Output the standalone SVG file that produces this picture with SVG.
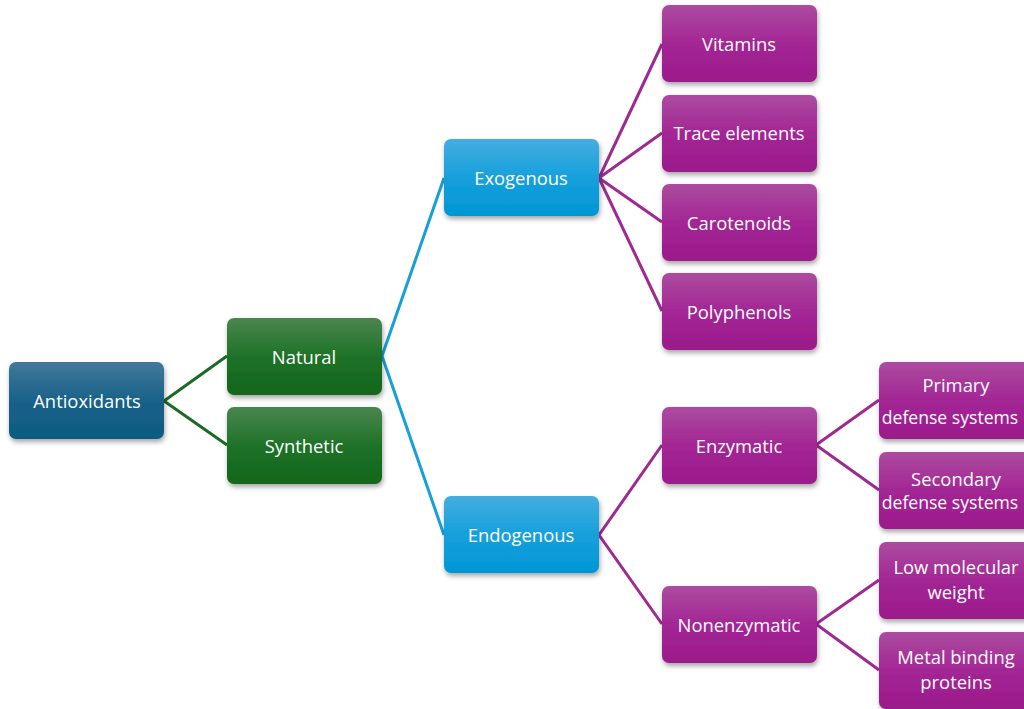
<svg xmlns="http://www.w3.org/2000/svg" width="1024" height="709" viewBox="0 0 1024 709">
<defs>
<linearGradient id="gNavy" x1="0" y1="0" x2="0" y2="1"><stop offset="0" stop-color="#41789a"/><stop offset="0.5" stop-color="#1a6289"/><stop offset="1" stop-color="#0c5a80"/></linearGradient>
<linearGradient id="gGreen" x1="0" y1="0" x2="0" y2="1"><stop offset="0" stop-color="#4a8650"/><stop offset="0.5" stop-color="#1f7228"/><stop offset="1" stop-color="#12661c"/></linearGradient>
<linearGradient id="gBlue" x1="0" y1="0" x2="0" y2="1"><stop offset="0" stop-color="#45ade0"/><stop offset="0.5" stop-color="#16a0dc"/><stop offset="1" stop-color="#0096d6"/></linearGradient>
<linearGradient id="gPurple" x1="0" y1="0" x2="0" y2="1"><stop offset="0" stop-color="#ac4c9f"/><stop offset="0.5" stop-color="#a32695"/><stop offset="1" stop-color="#9b1a8b"/></linearGradient>
<filter id="sh" x="-20%" y="-20%" width="140%" height="150%"><feDropShadow dx="1" dy="3" stdDeviation="2.5" flood-color="#000" flood-opacity="0.35"/></filter>
</defs>
<style>
.box{filter:url(#sh);}
.t{font-family:"Open Sans","Liberation Sans",sans-serif;font-size:18.4px;fill:#fff;text-anchor:middle;dominant-baseline:central;}
.ts{font-size:17.6px;}
.cg{stroke:#1b6a26;stroke-width:3;fill:none;}
.cb{stroke:#17a0d8;stroke-width:3;fill:none;}
.cp{stroke:#9e2a90;stroke-width:3;fill:none;}
</style>
<rect width="1024" height="709" fill="#fff"/>
<g id="connectors">
<polyline class="cg" points="227,356 164,401 227,445"/>
<polyline class="cb" points="444,178 382,356 444,535"/>
<path class="cp" d="M662,44 L599,178 L662,133 M599,178 L662,222 M599,178 L662,311"/>
<polyline class="cp" points="662,445 599,535 662,624"/>
<polyline class="cp" points="879,400 816,445 879,490"/>
<polyline class="cp" points="879,580 816,624 879,670"/>
</g>
<g id="antioxidants"><rect class="box" x="9" y="362" width="155" height="77" rx="7" fill="url(#gNavy)"/><text class="t" x="87" y="400">Antioxidants</text></g>
<g id="natural"><rect class="box" x="227" y="318" width="155" height="77" rx="7" fill="url(#gGreen)"/><text class="t" x="304" y="356">Natural</text></g>
<g id="synthetic"><rect class="box" x="227" y="407" width="155" height="77" rx="7" fill="url(#gGreen)"/><text class="t" x="304" y="445">Synthetic</text></g>
<g id="exogenous"><rect class="box" x="444" y="139" width="155" height="77" rx="7" fill="url(#gBlue)"/><text class="t" x="521" y="177">Exogenous</text></g>
<g id="endogenous"><rect class="box" x="444" y="496" width="155" height="77" rx="7" fill="url(#gBlue)"/><text class="t" x="521" y="534">Endogenous</text></g>
<g id="vitamins"><rect class="box" x="662" y="5" width="155" height="77" rx="7" fill="url(#gPurple)"/><text class="t" x="739" y="43">Vitamins</text></g>
<g id="trace"><rect class="box" x="662" y="95" width="155" height="77" rx="7" fill="url(#gPurple)"/><text class="t" x="739" y="132">Trace elements</text></g>
<g id="carotenoids"><rect class="box" x="662" y="184" width="155" height="77" rx="7" fill="url(#gPurple)"/><text class="t" x="739" y="222">Carotenoids</text></g>
<g id="polyphenols"><rect class="box" x="662" y="273" width="155" height="77" rx="7" fill="url(#gPurple)"/><text class="t" x="739" y="311">Polyphenols</text></g>
<g id="enzymatic"><rect class="box" x="662" y="407" width="155" height="77" rx="7" fill="url(#gPurple)"/><text class="t" x="739" y="445">Enzymatic</text></g>
<g id="nonenzymatic"><rect class="box" x="662" y="586" width="155" height="77" rx="7" fill="url(#gPurple)"/><text class="t" x="739" y="624">Nonenzymatic</text></g>
<g id="primary"><rect class="box" x="879" y="362" width="155" height="77" rx="7" fill="url(#gPurple)"/><text class="t" x="956" y="384">Primary</text><text class="t ts" x="950" y="417">defense systems</text></g>
<g id="secondary"><rect class="box" x="879" y="452" width="155" height="77" rx="7" fill="url(#gPurple)"/><text class="t" x="956" y="478">Secondary</text><text class="t ts" x="950" y="502">defense systems</text></g>
<g id="lowmw"><rect class="box" x="879" y="542" width="155" height="77" rx="7" fill="url(#gPurple)"/><text class="t" x="956" y="566">Low molecular</text><text class="t" x="956" y="591">weight</text></g>
<g id="metal"><rect class="box" x="879" y="632" width="155" height="77" rx="7" fill="url(#gPurple)"/><text class="t" x="956" y="656">Metal binding</text><text class="t" x="956" y="681">proteins</text></g>
</svg>
